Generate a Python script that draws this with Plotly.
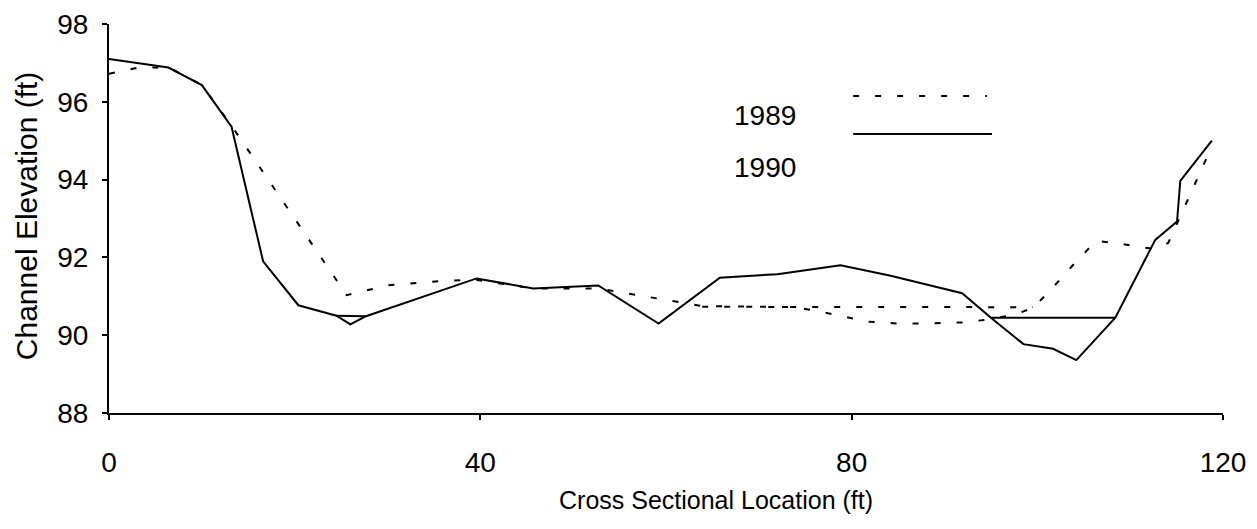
import plotly.graph_objects as go

# 1989 survey: channel bed, then (after None) the level water line
x_1989 = [0, 3, 6.4, 10, 13.3, 25.6, 30, 36, 39.6, 45.7, 52.7, 63.9, 74, 78.4,
          81.6, 85, 88, 92, 94.6, 97.6, 99.5, 101.2, 103.6, 106.3, 108.6, 110.9,
          112.5, 114.1, 118.7,
          None, 63.9, 99.5]
y_1989 = [96.72, 96.87, 96.89, 96.43, 95.35, 91.03, 91.28, 91.4, 91.42, 91.2, 91.2,
          90.75, 90.72, 90.52, 90.35, 90.3, 90.3, 90.33, 90.4, 90.53, 90.7, 91.1,
          91.74, 92.42, 92.37, 92.27, 92.22, 92.37, 94.8,
          None, 90.73, 90.72]

# 1990 survey
x_1990 = [0, 6.4, 10, 13.2, 16.6, 20.4, 24.5, 26, 27.6, 39.6, 45.7, 52.7, 59.2,
          65.8, 72, 78.8, 84.2, 91.9, 95.1, 98.5, 101.7, 104.2, 108.4, 112.7,
          115.05, 115.4, 118.8,
          None, 24.5, 27.6,
          None, 95.1, 108.4]
y_1990 = [97.1, 96.88, 96.43, 95.36, 91.9, 90.77, 90.5, 90.28, 90.48, 91.46, 91.2,
          91.28, 90.3, 91.48, 91.57, 91.8, 91.53, 91.08, 90.43, 89.77, 89.65, 89.36,
          90.45, 92.45, 92.92, 93.97, 95.0,
          None, 90.5, 90.49,
          None, 90.45, 90.45]

x_ticks = [0, 40, 80, 120]
y_ticks = [88, 90, 92, 94, 96, 98]

FONT = "Liberation Sans, Arial, sans-serif"
DASH = "6px,16px"

fig = go.Figure()

fig.add_trace(go.Scatter(
    x=x_1989, y=y_1989, mode="lines", name="1989",
    line=dict(color="black", width=2, dash=DASH),
    connectgaps=False, showlegend=False,
))
fig.add_trace(go.Scatter(
    x=x_1990, y=y_1990, mode="lines", name="1990",
    line=dict(color="black", width=2),
    connectgaps=False, showlegend=False,
))

# hand-drawn style key: line samples sit off the labels, as in the original
fig.add_shape(type="line", xref="paper", yref="paper",
              x0=0.668, x1=0.788, y0=0.815, y1=0.815,
              line=dict(color="black", width=2, dash=DASH))
fig.add_shape(type="line", xref="paper", yref="paper",
              x0=0.668, x1=0.7926, y0=0.717, y1=0.717,
              line=dict(color="black", width=2))
fig.add_annotation(text="1989", xref="paper", yref="paper", x=0.6185, y=0.766,
                   xanchor="right", yanchor="middle", showarrow=False,
                   font=dict(family=FONT, size=28, color="black"))
fig.add_annotation(text="1990", xref="paper", yref="paper", x=0.6185, y=0.63,
                   xanchor="right", yanchor="middle", showarrow=False,
                   font=dict(family=FONT, size=28, color="black"))

# axis titles
fig.add_annotation(text="Cross Sectional Location (ft)", xref="paper", yref="paper",
                   x=0.545, y=-0.224, xanchor="center", yanchor="middle",
                   showarrow=False, font=dict(family=FONT, size=25, color="black"))
fig.add_annotation(text="Channel Elevation (ft)", xref="paper", yref="paper",
                   x=-0.0745, y=0.506, xanchor="center", yanchor="middle",
                   textangle=-90, showarrow=False,
                   font=dict(family=FONT, size=30, color="black"))

# the page body adds an 8px offset, so margins are trimmed to compensate
fig.update_layout(
    width=1257,
    height=529,
    margin=dict(l=101, r=42, t=16, b=124),
    paper_bgcolor="white",
    plot_bgcolor="white",
    font=dict(family=FONT, color="black"),
    xaxis=dict(
        range=[0, 120], tickvals=x_ticks, showgrid=False, zeroline=False,
        showline=True, linecolor="black", linewidth=2, automargin=False,
        ticks="outside", ticklen=5, tickwidth=2, tickcolor="black",
        ticklabelstandoff=18, tickfont=dict(size=28), ticklabeloverflow="allow",
    ),
    yaxis=dict(
        range=[88, 98], tickvals=y_ticks, showgrid=False, zeroline=False,
        showline=True, linecolor="black", linewidth=2, automargin=False,
        ticks="outside", ticklen=5, tickwidth=2, tickcolor="black",
        ticklabelstandoff=8, tickfont=dict(size=28), ticklabeloverflow="allow",
    ),
)

fig.write_html("out.html")
